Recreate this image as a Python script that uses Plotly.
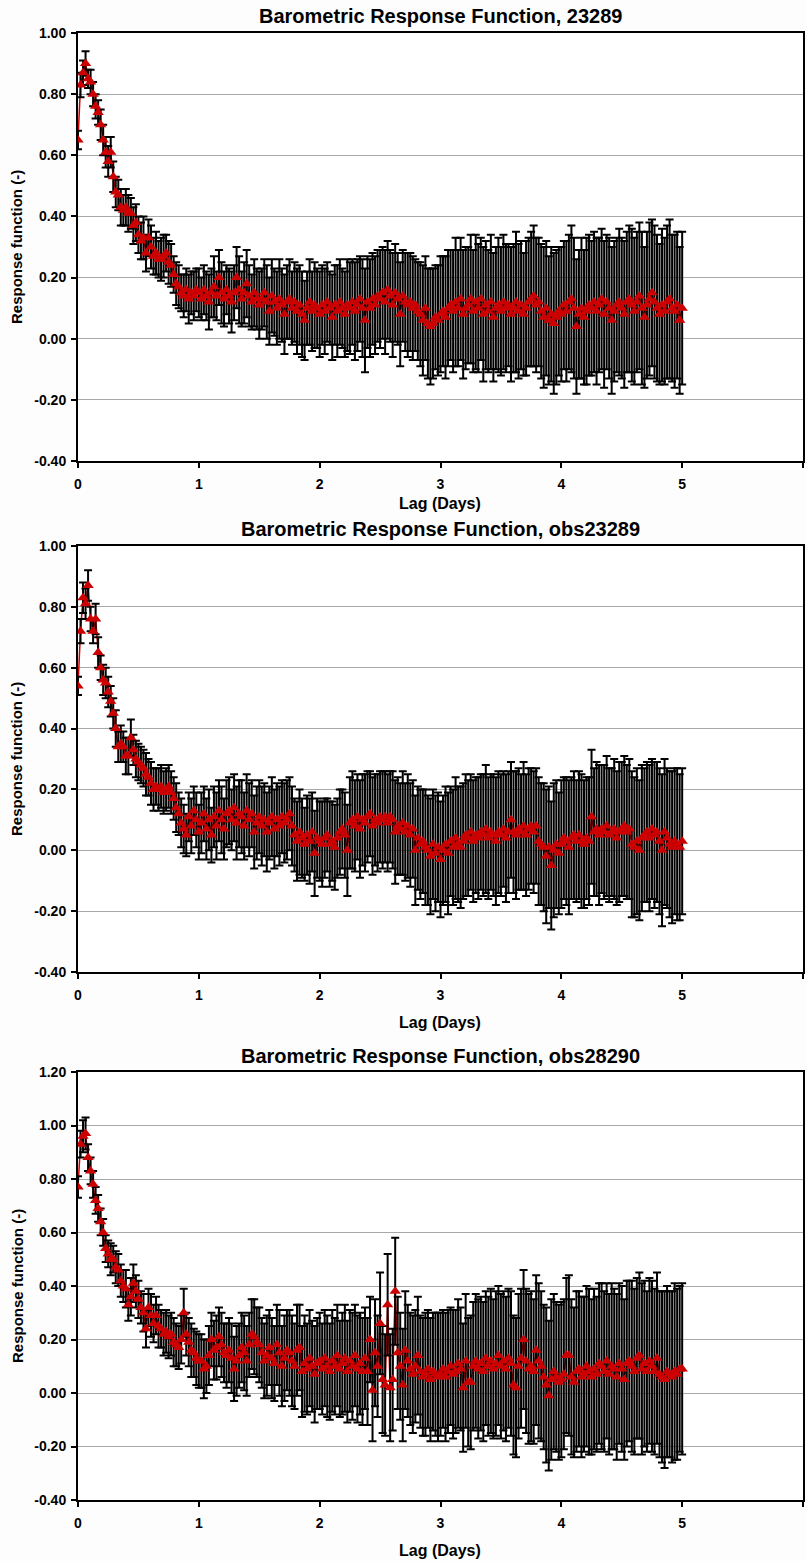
import plotly.graph_objects as go

W, H = 807, 1561

titles = [
    "Barometric Response Function, 23289",
    "Barometric Response Function, obs23289",
    "Barometric Response Function, obs28290",
]
x_title = "Lag (Days)"
y_title = "Response function (-)"
x_ticks = [0, 1, 2, 3, 4, 5, 6]
y_ticks_a = [-0.4, -0.2, 0.0, 0.2, 0.4, 0.6, 0.8, 1.0]
y_ticks_b = [-0.4, -0.2, 0.0, 0.2, 0.4, 0.6, 0.8, 1.0, 1.2]

# lag step: 30 minutes (1/48 day), 0 .. 5 days
step_days = 1.0 / 48.0

# ---- Panel 1: 23289 ----
v1 = [
    0.65, 0.83, 0.87, 0.90, 0.85, 0.84, 0.80, 0.76, 0.74, 0.70, 0.65, 0.61,
    0.58, 0.61, 0.53, 0.48, 0.47, 0.43, 0.42, 0.43, 0.41, 0.41, 0.37, 0.38,
    0.34, 0.32, 0.33, 0.28, 0.33, 0.30, 0.27, 0.28, 0.26, 0.26, 0.27, 0.28,
    0.25, 0.24, 0.21, 0.18, 0.17, 0.15, 0.14, 0.16, 0.13, 0.15, 0.14, 0.16,
    0.15, 0.13, 0.16, 0.14, 0.12, 0.15, 0.17, 0.14, 0.20, 0.15, 0.13, 0.16,
    0.14, 0.12, 0.15, 0.20, 0.16, 0.13, 0.15, 0.18, 0.14, 0.12, 0.15, 0.13,
    0.11, 0.13, 0.15, 0.12, 0.09, 0.14, 0.12, 0.10, 0.13, 0.11, 0.08, 0.12,
    0.13, 0.10, 0.12, 0.09, 0.11, 0.08, 0.06, 0.10, 0.12, 0.09, 0.11, 0.10,
    0.08, 0.11, 0.09, 0.12, 0.10, 0.07, 0.11, 0.09, 0.12, 0.10, 0.08, 0.11,
    0.10, 0.12, 0.09, 0.11, 0.13, 0.10, 0.06, 0.12, 0.10, 0.13, 0.11, 0.14,
    0.13, 0.15, 0.12, 0.16, 0.14, 0.11, 0.15, 0.13, 0.08, 0.14, 0.12, 0.11,
    0.12, 0.10, 0.11, 0.09, 0.08, 0.06, 0.10, 0.05, 0.04, 0.05, 0.07, 0.06,
    0.08, 0.09, 0.07, 0.10, 0.11, 0.09, 0.12, 0.10, 0.13, 0.08, 0.10, 0.11,
    0.13, 0.09, 0.12, 0.10, 0.13, 0.08, 0.11, 0.09, 0.12, 0.07, 0.10, 0.11,
    0.09, 0.12, 0.10, 0.11, 0.08, 0.10, 0.12, 0.09, 0.11, 0.08, 0.10, 0.12,
    0.13, 0.14, 0.11, 0.12, 0.09, 0.07, 0.10, 0.06, 0.08, 0.05, 0.07, 0.09,
    0.08, 0.11, 0.09, 0.12, 0.13, 0.10, 0.04, 0.08, 0.10, 0.07, 0.09, 0.11,
    0.10, 0.12, 0.09, 0.11, 0.13, 0.08, 0.12, 0.10, 0.06, 0.09, 0.11, 0.12,
    0.10, 0.08, 0.12, 0.13, 0.11, 0.09, 0.12, 0.14, 0.10, 0.07, 0.11, 0.13,
    0.15, 0.12, 0.10, 0.08, 0.11, 0.09, 0.12, 0.13, 0.10, 0.09, 0.11, 0.06,
    0.10,
]
e1 = [
    0.03, 0.04, 0.04, 0.04, 0.03, 0.04, 0.04, 0.04, 0.04, 0.05, 0.05, 0.05,
    0.05, 0.05, 0.05, 0.05, 0.05, 0.06, 0.05, 0.06, 0.06, 0.05, 0.06, 0.06,
    0.06, 0.06, 0.07, 0.06, 0.06, 0.07, 0.06, 0.07, 0.06, 0.07, 0.07, 0.06,
    0.07, 0.07, 0.06, 0.07, 0.07, 0.06, 0.07, 0.07, 0.08, 0.07, 0.08, 0.07,
    0.08, 0.07, 0.08, 0.08, 0.09, 0.08, 0.10, 0.08, 0.09, 0.10, 0.09, 0.08,
    0.09, 0.10, 0.09, 0.10, 0.11, 0.09, 0.10, 0.11, 0.10, 0.09, 0.11, 0.10,
    0.11, 0.10, 0.11, 0.12, 0.11, 0.12, 0.11, 0.12, 0.13, 0.12, 0.13, 0.12,
    0.13, 0.12, 0.13, 0.14, 0.13, 0.14, 0.13, 0.12, 0.14, 0.13, 0.14, 0.13,
    0.14, 0.13, 0.14, 0.13, 0.12, 0.14, 0.13, 0.15, 0.14, 0.13, 0.14, 0.15,
    0.15, 0.14, 0.16, 0.15, 0.14, 0.16, 0.17, 0.15, 0.16, 0.15, 0.16, 0.15,
    0.16, 0.15, 0.17, 0.16, 0.15, 0.17, 0.16, 0.15, 0.17, 0.15, 0.16, 0.17,
    0.16, 0.17, 0.15, 0.16, 0.17, 0.18, 0.17, 0.18, 0.19, 0.18, 0.17, 0.18,
    0.19, 0.18, 0.20, 0.19, 0.18, 0.20, 0.21, 0.19, 0.20, 0.21, 0.20, 0.19,
    0.21, 0.20, 0.22, 0.21, 0.20, 0.22, 0.21, 0.20, 0.22, 0.21, 0.20, 0.22,
    0.21, 0.22, 0.21, 0.20, 0.22, 0.21, 0.23, 0.22, 0.21, 0.20, 0.22, 0.21,
    0.22, 0.23, 0.22, 0.21, 0.22, 0.23, 0.22, 0.21, 0.22, 0.23, 0.22, 0.21,
    0.22, 0.21, 0.23, 0.22, 0.24, 0.23, 0.22, 0.21, 0.23, 0.22, 0.24, 0.23,
    0.22, 0.23, 0.24, 0.22, 0.23, 0.24, 0.22, 0.23, 0.24, 0.23, 0.22, 0.24,
    0.23, 0.24, 0.23, 0.24, 0.25, 0.24, 0.23, 0.24, 0.25, 0.23, 0.24, 0.25,
    0.24, 0.25, 0.24, 0.23, 0.25, 0.24, 0.25, 0.26, 0.24, 0.25, 0.24, 0.24,
    0.25,
]

# ---- Panel 2: obs23289 ----
v2 = [
    0.54, 0.72, 0.83, 0.81, 0.87, 0.76, 0.72, 0.76, 0.65, 0.60, 0.56, 0.55,
    0.52, 0.49, 0.45, 0.40, 0.34, 0.35, 0.34, 0.31, 0.31, 0.37, 0.33, 0.30,
    0.29, 0.28, 0.27, 0.25, 0.24, 0.22, 0.20, 0.21, 0.20, 0.21, 0.19, 0.20,
    0.21, 0.19, 0.17, 0.14, 0.12, 0.09, 0.07, 0.05, 0.11, 0.08, 0.13, 0.10,
    0.06, 0.09, 0.12, 0.07, 0.10, 0.05, 0.11, 0.08, 0.13, 0.10, 0.07, 0.12,
    0.13, 0.10, 0.14, 0.09, 0.12, 0.11, 0.08, 0.13, 0.10, 0.12, 0.06, 0.09,
    0.11, 0.08, 0.10, 0.06, 0.09, 0.11, 0.07, 0.10, 0.08, 0.11, 0.09, 0.10,
    0.12, 0.08, 0.05, 0.03, 0.06, 0.04, 0.02, 0.05, 0.03, 0.06, -0.01, 0.04,
    0.03, 0.02, 0.04, 0.05, 0.02, 0.03, 0.01, 0.04, 0.06, 0.07, 0.05, 0.00,
    0.09, 0.10, 0.08, 0.11, 0.07, 0.10, 0.09, 0.11, 0.12, 0.08, 0.10, 0.09,
    0.11, 0.10, 0.11, 0.09, 0.11, 0.10, 0.06, 0.08, 0.07, 0.09, 0.06, 0.08,
    0.05, 0.07, 0.00, 0.04, 0.02, 0.03, 0.01, 0.00, -0.02, 0.02, -0.01, 0.01,
    -0.03, 0.00, 0.02, -0.01, 0.03, 0.01, 0.04, 0.02, 0.01, 0.03, 0.05, 0.04,
    0.06, 0.03, 0.05, 0.04, 0.06, 0.05, 0.07, 0.04, 0.06, 0.05, 0.03, 0.06,
    0.05, 0.07, 0.04, 0.06, 0.10, 0.06, 0.05, 0.07, 0.06, 0.08, 0.05, 0.07,
    0.08, 0.06, 0.08, 0.03, 0.02, 0.01, -0.02, 0.01, -0.05, 0.00, 0.02, -0.01,
    0.02, 0.04, 0.03, 0.01, 0.04, 0.05, 0.03, 0.05, 0.03, 0.02, 0.04, 0.03,
    0.11, 0.06, 0.07, 0.05, 0.07, 0.06, 0.08, 0.05, 0.06, 0.07, 0.04, 0.06,
    0.07, 0.08, 0.06, 0.07, 0.02, 0.01, 0.03, 0.00, 0.04, 0.05, 0.06, 0.04,
    0.07, 0.05, 0.06, 0.03, 0.00, 0.06, 0.04, 0.02, 0.01, 0.03, 0.02, 0.01,
    0.03,
]
e2 = [
    0.03, 0.04, 0.05, 0.05, 0.05, 0.04, 0.04, 0.05, 0.05, 0.04, 0.05, 0.05,
    0.05, 0.05, 0.05, 0.06, 0.05, 0.06, 0.05, 0.06, 0.06, 0.06, 0.05, 0.06,
    0.06, 0.06, 0.06, 0.07, 0.06, 0.07, 0.07, 0.06, 0.07, 0.07, 0.07, 0.07,
    0.07, 0.07, 0.07, 0.08, 0.07, 0.08, 0.08, 0.07, 0.08, 0.09, 0.08, 0.09,
    0.09, 0.10, 0.09, 0.10, 0.10, 0.09, 0.10, 0.11, 0.10, 0.11, 0.10, 0.11,
    0.11, 0.10, 0.11, 0.12, 0.11, 0.12, 0.11, 0.12, 0.12, 0.11, 0.12, 0.12,
    0.12, 0.13, 0.12, 0.13, 0.12, 0.13, 0.13, 0.12, 0.13, 0.12, 0.13, 0.13,
    0.12, 0.13, 0.12, 0.13, 0.14, 0.13, 0.12, 0.13, 0.14, 0.13, 0.14, 0.13,
    0.13, 0.14, 0.13, 0.12, 0.14, 0.13, 0.14, 0.13, 0.14, 0.13, 0.14, 0.15,
    0.15, 0.16, 0.15, 0.14, 0.16, 0.15, 0.16, 0.15, 0.14, 0.16, 0.15, 0.16,
    0.15, 0.16, 0.15, 0.16, 0.15, 0.16, 0.17, 0.16, 0.15, 0.17, 0.16, 0.17,
    0.17, 0.16, 0.18, 0.17, 0.18, 0.17, 0.19, 0.18, 0.19, 0.18, 0.19, 0.18,
    0.19, 0.18, 0.19, 0.20, 0.18, 0.19, 0.20, 0.19, 0.20, 0.19, 0.20, 0.19,
    0.19, 0.20, 0.19, 0.20, 0.19, 0.20, 0.21, 0.20, 0.19, 0.20, 0.21, 0.20,
    0.20, 0.19, 0.21, 0.20, 0.19, 0.20, 0.21, 0.20, 0.19, 0.21, 0.20, 0.20,
    0.19, 0.20, 0.19, 0.21, 0.20, 0.21, 0.22, 0.20, 0.21, 0.22, 0.21, 0.20,
    0.21, 0.20, 0.21, 0.22, 0.20, 0.21, 0.20, 0.21, 0.22, 0.21, 0.20, 0.21,
    0.22, 0.21, 0.22, 0.23, 0.21, 0.22, 0.23, 0.22, 0.21, 0.23, 0.22, 0.23,
    0.22, 0.23, 0.22, 0.23, 0.24, 0.23, 0.24, 0.23, 0.24, 0.22, 0.23, 0.24,
    0.23, 0.24, 0.23, 0.24, 0.25, 0.24, 0.23, 0.24, 0.25, 0.24, 0.25, 0.24,
    0.24,
]

# ---- Panel 3: obs28290 ----
v3 = [
    0.77, 0.93, 0.96, 0.97, 0.88, 0.83, 0.78, 0.72, 0.69, 0.64, 0.60, 0.54,
    0.52, 0.50, 0.50, 0.47, 0.46, 0.42, 0.40, 0.39, 0.33, 0.36, 0.41, 0.38,
    0.35, 0.32, 0.30, 0.24, 0.32, 0.29, 0.26, 0.29, 0.25, 0.24, 0.22, 0.23,
    0.21, 0.22, 0.19, 0.18, 0.17, 0.20, 0.30, 0.22, 0.19, 0.16, 0.15, 0.13,
    0.12, 0.12, 0.09, 0.10, 0.14, 0.20, 0.16, 0.17, 0.21, 0.18, 0.15, 0.14,
    0.16, 0.13, 0.09, 0.12, 0.14, 0.17, 0.15, 0.12, 0.18, 0.22, 0.21, 0.19,
    0.18, 0.15, 0.12, 0.14, 0.17, 0.13, 0.11, 0.18, 0.15, 0.10, 0.13, 0.16,
    0.15, 0.12, 0.10, 0.16, 0.17, 0.08, 0.11, 0.09, 0.13, 0.10, 0.07, 0.11,
    0.12, 0.09, 0.13, 0.10, 0.08, 0.12, 0.10, 0.14, 0.09, 0.11, 0.13, 0.08,
    0.12, 0.10, 0.14, 0.09, 0.11, 0.08, 0.13, 0.08, 0.20, 0.01, 0.15, 0.10,
    0.26, 0.05, 0.03, 0.33, 0.02, 0.05, 0.38, 0.15, 0.10, 0.03, 0.16, 0.12,
    0.09, 0.07, 0.10, 0.14, 0.08, 0.06, 0.07, 0.09, 0.05, 0.08, 0.07, 0.06,
    0.07, 0.09, 0.06, 0.08, 0.10, 0.07, 0.08, 0.11, 0.09, 0.02, 0.12, 0.04,
    0.04, 0.10, 0.12, 0.09, 0.11, 0.08, 0.13, 0.10, 0.12, 0.09, 0.11, 0.14,
    0.10, 0.12, 0.09, 0.13, 0.11, 0.03, 0.02, 0.10, 0.13, 0.20, 0.12, 0.09,
    0.10, 0.08, 0.16, 0.12, 0.10, 0.06, 0.03, -0.01, 0.05, 0.08, 0.06, 0.04,
    0.05, 0.07, 0.14, 0.14, 0.06, 0.04, 0.08, 0.09, 0.06, 0.07, 0.10, 0.08,
    0.06, 0.09, 0.07, 0.11, 0.10, 0.08, 0.12, 0.07, 0.10, 0.09, 0.06, 0.11,
    0.09, 0.05, 0.11, 0.12, 0.10, 0.08, 0.13, 0.14, 0.09, 0.11, 0.08, 0.12,
    0.10, 0.08, 0.13, 0.07, 0.06, 0.05, 0.08, 0.07, 0.06, 0.08, 0.07, 0.09,
    0.09,
]
e3 = [
    0.04, 0.05, 0.06, 0.06, 0.05, 0.05, 0.05, 0.05, 0.05, 0.05, 0.05, 0.05,
    0.05, 0.06, 0.05, 0.06, 0.06, 0.06, 0.06, 0.07, 0.06, 0.07, 0.07, 0.06,
    0.07, 0.06, 0.07, 0.07, 0.07, 0.08, 0.07, 0.07, 0.08, 0.07, 0.08, 0.08,
    0.08, 0.08, 0.09, 0.08, 0.08, 0.09, 0.09, 0.08, 0.09, 0.10, 0.09, 0.10,
    0.10, 0.10, 0.11, 0.10, 0.11, 0.10, 0.11, 0.12, 0.11, 0.12, 0.11, 0.12,
    0.12, 0.13, 0.12, 0.13, 0.12, 0.13, 0.14, 0.13, 0.12, 0.13, 0.14, 0.13,
    0.14, 0.13, 0.14, 0.15, 0.14, 0.15, 0.14, 0.15, 0.16, 0.15, 0.16, 0.15,
    0.16, 0.17, 0.16, 0.17, 0.16, 0.17, 0.18, 0.17, 0.18, 0.17, 0.18, 0.17,
    0.18, 0.17, 0.18, 0.19, 0.18, 0.19, 0.18, 0.19, 0.18, 0.19, 0.20, 0.19,
    0.19, 0.20, 0.19, 0.20, 0.19, 0.20, 0.19, 0.20, 0.16, 0.19, 0.20, 0.19,
    0.19, 0.20, 0.19, 0.19, 0.20, 0.19, 0.20, 0.21, 0.20, 0.21, 0.22, 0.21,
    0.21, 0.22, 0.21, 0.22, 0.21, 0.22, 0.23, 0.22, 0.23, 0.22, 0.23, 0.24,
    0.23, 0.22, 0.24, 0.23, 0.22, 0.24, 0.23, 0.24, 0.23, 0.24, 0.25, 0.24,
    0.25, 0.24, 0.25, 0.26, 0.25, 0.26, 0.25, 0.26, 0.27, 0.26, 0.27, 0.26,
    0.27, 0.26, 0.27, 0.26, 0.27, 0.26, 0.26, 0.27, 0.26, 0.26, 0.27, 0.28,
    0.28, 0.27, 0.28, 0.29, 0.28, 0.27, 0.29, 0.28, 0.30, 0.29, 0.28, 0.29,
    0.29, 0.28, 0.29, 0.30, 0.29, 0.28, 0.30, 0.29, 0.30, 0.29, 0.30, 0.31,
    0.29, 0.30, 0.29, 0.30, 0.31, 0.30, 0.29, 0.30, 0.31, 0.30, 0.31, 0.30,
    0.31, 0.30, 0.31, 0.30, 0.32, 0.31, 0.30, 0.31, 0.32, 0.31, 0.30, 0.31,
    0.32, 0.31, 0.32, 0.31, 0.32, 0.33, 0.32, 0.31, 0.32, 0.33, 0.32, 0.31,
    0.32,
]

FONT = "Arial, Liberation Sans, sans-serif"
RED = "#CC0000"

# layout geometry in pixels (top of plot, bottom of plot, title centre, x-title offset)
panels = [
    dict(v=v1, e=e1, yt=y_ticks_a, top=33, bot=461, title_y=16, xt_off=42),
    dict(v=v2, e=e2, yt=y_ticks_a, top=546, bot=972, title_y=529, xt_off=50),
    dict(v=v3, e=e3, yt=y_ticks_b, top=1072, bot=1500, title_y=1056, xt_off=50),
]
x_left, x_right = 78, 803

fig = go.Figure()
annotations = []
for k, p in enumerate(panels):
    n = len(p["v"])
    lag = [i * step_days for i in range(n)]
    sfx = "" if k == 0 else str(k + 1)
    axes = dict(xaxis="x" + sfx, yaxis="y" + sfx, showlegend=False, hoverinfo="skip")
    # connecting line (drawn beneath the error bars, as in the original)
    fig.add_trace(go.Scatter(x=lag, y=p["v"], mode="lines",
                             line=dict(color=RED, width=1.5), **axes))
    # error bars
    fig.add_trace(go.Scatter(
        x=lag, y=p["v"], mode="markers",
        marker=dict(size=1, color="rgba(0,0,0,0)"),
        error_y=dict(type="data", array=p["e"], visible=True,
                     color="black", thickness=2, width=4),
        **axes))
    # triangle markers on top
    fig.add_trace(go.Scatter(
        x=lag, y=p["v"], mode="markers",
        marker=dict(symbol="triangle-up", size=10, color=RED,
                    line=dict(width=0)),
        **axes))
    ydom = [1 - p["bot"] / H, 1 - p["top"] / H]
    fig.update_layout(**{
        "xaxis" + sfx: dict(
            domain=[x_left / W, x_right / W], anchor="y" + sfx,
            range=[0, 6], tickvals=x_ticks, ticktext=[str(t) for t in x_ticks],
            showline=True, linecolor="black", linewidth=2, mirror=True,
            ticks="outside", ticklen=5, tickwidth=1.5, tickcolor="black",
            showgrid=False, zeroline=False, automargin=False,
            ticklabelstandoff=4,
            tickfont=dict(family=FONT, size=14, color="black", weight="bold"),
        ),
        "yaxis" + sfx: dict(
            domain=ydom, anchor="x" + sfx,
            range=[p["yt"][0], p["yt"][-1]],
            tickvals=p["yt"], ticktext=[f"{t:.2f}" for t in p["yt"]],
            showline=True, linecolor="black", linewidth=2, mirror=True,
            ticks="outside", ticklen=5, tickwidth=1.5, tickcolor="black",
            showgrid=True, gridcolor="#a8a8a8", gridwidth=1,
            zeroline=False, automargin=False,
            ticklabelstandoff=2,
            tickfont=dict(family=FONT, size=14, color="black", weight="bold"),
        ),
    })
    annotations.append(dict(
        text=titles[k], xref="paper", yref="paper",
        x=(x_left + x_right) / 2 / W, y=1 - p["title_y"] / H,
        xanchor="center", yanchor="middle", showarrow=False,
        font=dict(family=FONT, size=20, color="black", weight="bold"),
    ))
    annotations.append(dict(
        text=x_title, xref="paper", yref="paper",
        x=(x_left + x_right) / 2 / W, y=1 - (p["bot"] + p["xt_off"]) / H,
        xanchor="center", yanchor="middle", showarrow=False,
        font=dict(family=FONT, size=16, color="black", weight="bold"),
    ))
    annotations.append(dict(
        text=y_title, xref="paper", yref="paper",
        x=17 / W, y=1 - (p["top"] + p["bot"]) / 2 / H,
        xanchor="center", yanchor="middle", showarrow=False, textangle=-90,
        font=dict(family=FONT, size=15, color="black", weight="bold"),
    ))

fig.update_layout(
    width=W, height=H,
    margin=dict(l=0, r=0, t=0, b=0),
    paper_bgcolor="#fdfdfd", plot_bgcolor="white",
    annotations=annotations,
    showlegend=False,
)

fig.write_html("out.html")
